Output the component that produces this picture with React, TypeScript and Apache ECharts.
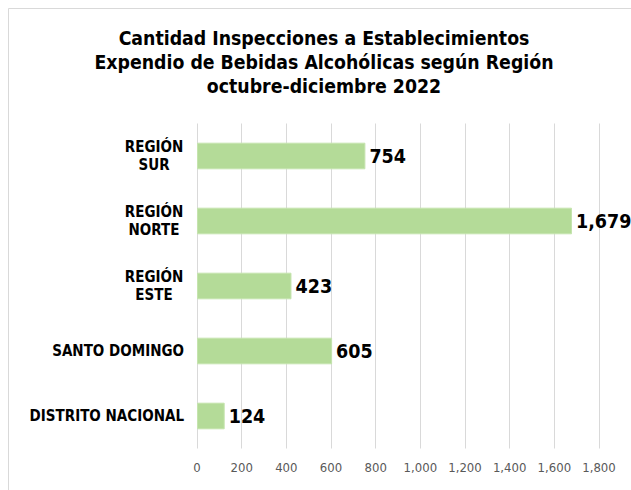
import React, { useEffect, useRef } from "react";
import * as echarts from "echarts";

const categories = ["DISTRITO NACIONAL", "SANTO DOMINGO", "REGIÓN ESTE", "REGIÓN NORTE", "REGIÓN SUR"];
const values = [124, 605, 423, 1679, 754];
const titleLines = [
  "Cantidad Inspecciones a Establecimientos",
  "Expendio de Bebidas Alcohólicas según Región",
  "octubre-diciembre 2022",
];

const FONT = "'DejaVu Sans Condensed', 'DejaVu Sans', sans-serif";

export default function App() {
  const ref = useRef<HTMLDivElement>(null);
  useEffect(() => {
    document.body.style.margin = "0";
    const chart = echarts.init(ref.current!, null, { renderer: "svg" });
    chart.setOption({
      animation: false,
      backgroundColor: "#ffffff",
      graphic: [
        {
          type: "rect",
          shape: { x: 8.5, y: 8.5, width: 700, height: 600 },
          style: { fill: "none", stroke: "#d9d9d9", lineWidth: 1 },
          silent: true,
        },
      ],
      title: {
        text: titleLines.join("\n"),
        left: 319,
        textAlign: "center",
        top: 21,
        textStyle: {
          fontFamily: FONT,
          fontWeight: "bold",
          fontSize: 19.3,
          lineHeight: 24,
          color: "#000000",
        },
      },
      grid: { left: 197, right: 32, top: 123.5, bottom: 41.5, containLabel: false },
      xAxis: {
        type: "value",
        min: 0,
        max: 1800,
        interval: 200,
        axisLine: { show: false },
        axisTick: { show: false },
        splitLine: { show: true, lineStyle: { color: "#d9d9d9", width: 1 } },
        axisLabel: {
          margin: 12,
          fontFamily: FONT,
          fontSize: 13,
          color: "#595959",
          formatter: (v: number) => v.toLocaleString("en-US"),
        },
      },
      yAxis: {
        type: "category",
        data: categories,
        axisLine: { show: false },
        axisTick: { show: false },
        axisLabel: {
          margin: 13,
          fontFamily: FONT,
          fontWeight: "bold",
          fontSize: 15,
          color: "#000000",
          lineHeight: 18,
          formatter: (v: string) => {
            if (v.startsWith("REGIÓN ")) {
              const parts = v.split(" ");
              return `{c|${parts[0]}}\n{c|${parts[1]}}`;
            }
            return `{s|${v}}`;
          },
          rich: {
            c: { width: 60, align: "center", fontFamily: FONT, fontWeight: "bold", fontSize: 15, lineHeight: 18, color: "#000000" },
            s: { fontFamily: FONT, fontWeight: "bold", fontSize: 15, color: "#000000" },
          },
        },
      },
      series: [
        {
          type: "bar",
          data: values,
          barWidth: "41%",
          itemStyle: { color: "#b4db98", borderColor: "#c5e4ae", borderWidth: 1 },
          label: {
            show: true,
            position: "right",
            distance: 4,
            fontFamily: FONT,
            fontWeight: "bold",
            fontSize: 19.5,
            color: "#000000",
            formatter: (p: any) => Number(p.value).toLocaleString("en-US"),
          },
        },
      ],
    });
    return () => chart.dispose();
  }, []);
  return <div ref={ref} style={{ width: 631, height: 490 }} />;
}
